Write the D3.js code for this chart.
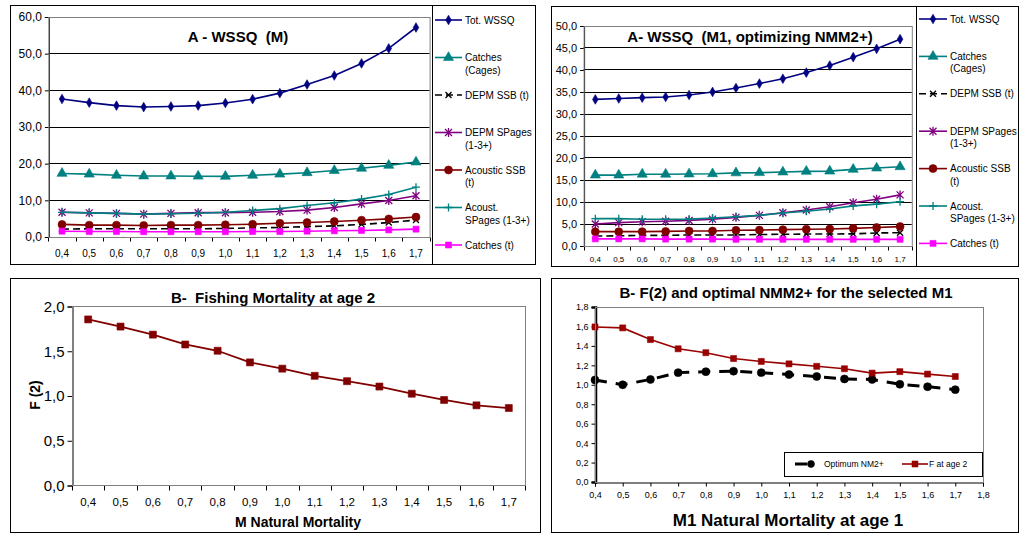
<!DOCTYPE html>
<html>
<head>
<meta charset="utf-8">
<script src="https://cdn.jsdelivr.net/npm/d3@7"></script>
<style>
  body { margin: 0; background: #fff; }
  svg { font-family: Arial, "Liberation Sans", sans-serif; }
  text { white-space: pre; }
</style>
</head>
<body>
<svg id="fig" width="1019" height="534"></svg>
<script>
// categories (M / M1 values)
var mLabels = ["0,4","0,5","0,6","0,7","0,8","0,9","1,0","1,1","1,2","1,3","1,4","1,5","1,6","1,7"];
var m1Values = [0.4,0.5,0.6,0.7,0.8,0.9,1.0,1.1,1.2,1.3,1.4,1.5,1.6,1.7];

// A - WSSQ (M)
var aTotWSSQ    = [37.5,36.5,35.7,35.3,35.45,35.7,36.4,37.45,39.1,41.45,43.9,47.2,51.3,57.0];
var aCatchCages = [17.2,17.0,16.7,16.5,16.5,16.45,16.4,16.7,17.0,17.4,18.0,18.6,19.4,20.3];
var aDepmSSB    = [2.0,2.1,2.1,2.1,2.1,2.1,2.2,2.35,2.45,2.7,2.9,3.3,3.8,4.5];
var aDepmSPages = [6.6,6.45,6.3,6.1,6.3,6.5,6.5,6.6,6.8,7.2,7.9,8.9,9.8,11.1];
var aAcouSSB    = [3.3,3.1,3.1,3.0,3.1,3.1,3.2,3.35,3.6,3.8,4.1,4.45,4.8,5.3];
var aAcouSPages = [6.6,6.45,6.3,6.1,6.2,6.35,6.6,7.1,7.6,8.45,9.2,10.2,11.45,13.45];
var aCatchT     = [1.45,1.35,1.35,1.3,1.3,1.3,1.3,1.35,1.35,1.45,1.55,1.65,1.8,2.0];

// A- WSSQ (M1, optimizing NMM2+)
var a2TotWSSQ    = [33.2,33.4,33.6,33.75,34.2,34.9,35.8,36.8,37.9,39.3,40.9,42.8,44.7,46.9];
var a2CatchCages = [16.0,16.0,16.2,16.2,16.25,16.3,16.5,16.55,16.7,16.85,16.9,17.3,17.6,17.9];
var a2DepmSSB    = [2.15,2.2,2.3,2.3,2.4,2.4,2.4,2.5,2.55,2.6,2.6,2.65,2.85,2.9];
var a2DepmSPages = [4.9,5.2,5.4,5.5,5.7,6.0,6.4,6.85,7.45,8.05,8.8,9.7,10.5,11.5];
var a2AcouSSB    = [3.15,3.15,3.15,3.2,3.3,3.3,3.45,3.5,3.6,3.7,3.75,3.9,4.1,4.3];
var a2AcouSPages = [6.1,6.1,5.95,5.95,6.0,6.25,6.55,6.85,7.4,7.8,8.3,9.0,9.4,9.95];
var a2CatchT     = [1.5,1.5,1.5,1.45,1.45,1.45,1.4,1.4,1.4,1.4,1.4,1.4,1.4,1.4];

// B- Fishing mortality at age 2
var bF2 = [1.85,1.77,1.68,1.57,1.5,1.37,1.3,1.22,1.16,1.1,1.02,0.95,0.89,0.86];

// B- F(2) and optimal NMM2+ for the selected M1
var bOptNM2 = [1.05,1.0,1.055,1.125,1.135,1.14,1.125,1.105,1.085,1.06,1.055,1.005,0.98,0.95];
var bF2opt  = [1.595,1.585,1.465,1.37,1.33,1.27,1.24,1.215,1.19,1.165,1.12,1.135,1.11,1.085];

var seriesNames = [["Tot. WSSQ"], ["Catches", "(Cages)"], ["DEPM SSB (t)"], ["DEPM SPages", "(1-3+)"],
                   ["Acoustic SSB", "(t)"], ["Acoust.", "SPages (1-3+)"], ["Catches (t)"]];

var comma1 = d3.formatLocale({decimal: ",", thousands: ".", grouping: [3], currency: ["", ""]}).format(".1f");
var svg = d3.select("#fig");

function box(x0, y0, x1, y1, color) {
  svg.append("rect")
    .attr("x", x0 + 0.5).attr("y", y0 + 0.5)
    .attr("width", x1 - x0).attr("height", y1 - y0)
    .attr("fill", "none").attr("stroke", color || "#000");
}

// marker shapes
function markPath(type, s) {
  var h = s / 2;
  if (type == "diamond") return d3.symbol(d3.symbolDiamond, s * s * 0.55)();
  if (type == "triangle") return d3.symbol(d3.symbolTriangle, s * s * 0.55)();
  if (type == "circle") return d3.symbol(d3.symbolCircle, s * s * 0.78)();
  if (type == "square") return d3.symbol(d3.symbolSquare, s * s)();
  if (type == "x") return `M${-h},${-h}L${h},${h}M${-h},${h}L${h},${-h}`;
  if (type == "star") return `M${-h},${-h}L${h},${h}M${-h},${h}L${h},${-h}M0,${-h - 1}V${h + 1}`;
  if (type == "plus") return `M${-h},0H${h}M0,${-h}V${h}`;
}
function drawMark(g, type, color, s, x, y) {
  var open = (type == "x" || type == "star" || type == "plus");
  g.append("path")
    .attr("d", markPath(type, s))
    .attr("transform", `translate(${x},${y})`)
    .attr("fill", open ? "none" : color)
    .attr("stroke", color)
    .attr("stroke-width", open ? 1.3 : 0.6);
}

// ============ WSSQ panels ============
function wssqPanel(o) {
  box(o.frame[0], o.frame[1], o.frame[2], o.frame[3]);
  box(o.legX, o.frame[1], o.frame[2], o.frame[3]);

  var x = d3.scaleBand().domain(mLabels).range([o.px0, o.px1]);
  var y = d3.scaleLinear().domain([0, o.ymax]).range([o.py1, o.py0]);
  var g = svg.append("g");

  // gridlines
  var ticks = d3.range(0, o.ymax + 0.001, o.ystep);
  g.selectAll(".grid").data(ticks.slice(1, -1)).enter().append("line")
    .attr("x1", o.px0).attr("x2", o.px1)
    .attr("y1", d => Math.round(y(d)) + 0.5).attr("y2", d => Math.round(y(d)) + 0.5)
    .attr("stroke", "#000");
  box(o.px0, Math.round(y(o.ymax)), o.px1, Math.round(y(0)), "#808080");

  // y axis
  var yAxis = d3.axisLeft(y).tickValues(ticks).tickSize(4).tickFormat(comma1);
  var ya = g.append("g").attr("transform", `translate(${o.px0 + 0.5},0.5)`).call(yAxis);
  ya.select(".domain").attr("stroke", "#000");
  ya.selectAll("text").attr("font-size", o.yFont).attr("fill", "#000");

  // x axis (ticks at category boundaries)
  var xa = g.append("g").attr("transform", `translate(0,${Math.round(y(0)) + 0.5})`);
  xa.append("line").attr("x1", o.px0).attr("x2", o.px1).attr("stroke", "#000");
  xa.selectAll(".tk").data(mLabels.concat(["end"])).enter().append("line")
    .attr("x1", (d, i) => Math.round(o.px0 + i * x.step()) + 0.5)
    .attr("x2", (d, i) => Math.round(o.px0 + i * x.step()) + 0.5)
    .attr("y1", 0).attr("y2", 4).attr("stroke", "#000");
  xa.selectAll(".lb").data(mLabels).enter().append("text")
    .attr("x", d => x(d) + x.bandwidth() / 2)
    .attr("y", o.xLabY)
    .attr("text-anchor", "middle")
    .attr("font-size", o.xFont)
    .text(d => d);

  // series
  var line = d3.line().x((d, i) => x(mLabels[i]) + x.bandwidth() / 2).y(d => y(d));
  o.series.forEach(function (s) {
    g.append("path").datum(s.values).attr("d", line)
      .attr("fill", "none").attr("stroke", s.color).attr("stroke-width", 1.6)
      .attr("stroke-dasharray", s.dash || null);
    s.values.forEach(function (v, i) {
      drawMark(g, s.mark, s.color, s.size, x(mLabels[i]) + x.bandwidth() / 2, y(v));
    });
  });

  // title
  svg.append("text").attr("x", o.titleX).attr("y", o.titleY)
    .attr("text-anchor", "middle").attr("font-size", 15).attr("font-weight", "bold")
    .text(o.title);

  // legend
  o.series.forEach(function (s, i) {
    var ly = o.legY + i * o.legDy;
    svg.append("line").attr("x1", o.legL0).attr("x2", o.legL1).attr("y1", ly).attr("y2", ly)
      .attr("stroke", s.color).attr("stroke-width", 1.6).attr("stroke-dasharray", s.dash || null);
    drawMark(svg, s.mark, s.color, s.size, (o.legL0 + o.legL1) / 2, ly);
    seriesNames[i].forEach(function (t, k) {
      svg.append("text").attr("x", o.legT).attr("y", ly + 3.5 + k * 12.5)
        .attr("font-size", o.legFont).text(t);
    });
  });
}

function seriesSet(tot, cages, dssb, dsp, assb, asp, ct) {
  return [
    {values: tot,   color: "#000080", mark: "diamond",  size: 7},
    {values: cages, color: "#008080", mark: "triangle", size: 9},
    {values: dssb,  color: "#000000", mark: "x",        size: 6, dash: "7,4"},
    {values: dsp,   color: "#800080", mark: "star",     size: 7},
    {values: assb,  color: "#800000", mark: "circle",   size: 8},
    {values: asp,   color: "#008080", mark: "plus",     size: 8},
    {values: ct,    color: "#ff00ff", mark: "square",   size: 6}
  ];
}

wssqPanel({
  frame: [10, 5, 535, 264], legX: 432,
  px0: 48.4, px1: 429.6, py0: 16.5, py1: 236.5, ymax: 60, ystep: 10,
  yFont: 12, xFont: 10, xLabY: 19,
  series: seriesSet(aTotWSSQ, aCatchCages, aDepmSSB, aDepmSPages, aAcouSSB, aAcouSPages, aCatchT),
  title: "A - WSSQ  (M)", titleX: 238, titleY: 42,
  legY: 20, legDy: 37.5, legL0: 435, legL1: 462, legT: 465, legFont: 10
});

wssqPanel({
  frame: [551, 6, 1018, 266], legX: 916,
  px0: 583.6, px1: 911.8, py0: 25.5, py1: 245.5, ymax: 50, ystep: 5,
  yFont: 11, xFont: 8, xLabY: 15,
  series: seriesSet(a2TotWSSQ, a2CatchCages, a2DepmSSB, a2DepmSPages, a2AcouSSB, a2AcouSPages, a2CatchT),
  title: "A- WSSQ  (M1, optimizing NMM2+)", titleX: 750, titleY: 42,
  legY: 19, legDy: 37.4, legL0: 919, legL1: 947, legT: 950, legFont: 10
});

// ============ B- Fishing Mortality at age 2 ============
(function () {
  box(10, 278, 540, 532);
  var px0 = 72, px1 = 525, py0 = 306, py1 = 485;
  var x = d3.scaleBand().domain(mLabels).range([px0, px1]);
  var y = d3.scaleLinear().domain([0, 2]).range([py1, py0]);
  var g = svg.append("g");
  box(px0, py0, px1, py1, "#808080");

  var ya = g.append("g").attr("transform", `translate(${px0 + 0.5},0.5)`)
    .call(d3.axisLeft(y).tickValues([0, 0.5, 1, 1.5, 2]).tickSize(5).tickFormat(comma1));
  ya.selectAll("text").attr("font-size", 15).attr("fill", "#000");
  ya.selectAll("line, .domain").attr("stroke", "#000");

  var xa = g.append("g").attr("transform", `translate(0,${py1 + 0.5})`);
  xa.append("line").attr("x1", px0).attr("x2", px1).attr("stroke", "#000");
  xa.selectAll(".tk").data(mLabels.concat(["end"])).enter().append("line")
    .attr("x1", (d, i) => Math.round(px0 + i * x.step()) + 0.5)
    .attr("x2", (d, i) => Math.round(px0 + i * x.step()) + 0.5)
    .attr("y1", 0).attr("y2", 5).attr("stroke", "#000");
  xa.selectAll(".lb").data(mLabels).enter().append("text")
    .attr("x", d => x(d) + x.bandwidth() / 2).attr("y", 20)
    .attr("text-anchor", "middle").attr("font-size", 11.5).text(d => d);

  var line = d3.line().x((d, i) => x(mLabels[i]) + x.bandwidth() / 2).y(d => y(d));
  g.append("path").datum(bF2).attr("d", line).attr("fill", "none")
    .attr("stroke", "#800000").attr("stroke-width", 1.8);
  bF2.forEach(function (v, i) { drawMark(g, "square", "#800000", 7, x(mLabels[i]) + x.bandwidth() / 2, y(v)); });

  svg.append("text").attr("x", 273).attr("y", 303).attr("text-anchor", "middle")
    .attr("font-size", 15).attr("font-weight", "bold").text("B-  Fishing Mortality at age 2");
  svg.append("text").attr("x", 298).attr("y", 527).attr("text-anchor", "middle")
    .attr("font-size", 14).attr("font-weight", "bold").text("M Natural Mortality");
  svg.append("text").attr("transform", "translate(40,395) rotate(-90)").attr("text-anchor", "middle")
    .attr("font-size", 14).attr("font-weight", "bold").text("F (2)");
})();

// ============ B- F(2) and optimal NMM2+ ============
(function () {
  box(551, 278, 1018, 532);
  var px0 = 595, px1 = 983, py0 = 307, py1 = 482;
  var x = d3.scaleLinear().domain([0.4, 1.8]).range([px0, px1]);
  var y = d3.scaleLinear().domain([0, 1.8]).range([py1, py0]);
  var g = svg.append("g");
  box(px0, py0, px1, py1, "#808080");

  var xa = g.append("g").attr("transform", `translate(0,${py1 + 0.5})`)
    .call(d3.axisBottom(x).tickValues(d3.range(4, 19).map(d => d / 10)).tickSize(4).tickFormat(comma1));
  xa.selectAll("text").attr("font-size", 9).attr("fill", "#000").attr("dy", "0.9em");
  xa.selectAll("line, .domain").attr("stroke", "#000");

  var ya = g.append("g").attr("transform", `translate(${px0 + 0.5},0)`)
    .call(d3.axisLeft(y).tickValues(d3.range(0, 10).map(d => d / 5)).tickSize(4).tickFormat(comma1));
  ya.selectAll("text").attr("font-size", 9).attr("fill", "#000");
  ya.selectAll("line").attr("stroke", "#000");
  ya.select(".domain").attr("stroke", "#000").attr("stroke-width", 2.5);

  var line = d3.line().x((d, i) => x(m1Values[i])).y(d => y(d));
  g.append("path").datum(bOptNM2).attr("d", line).attr("fill", "none")
    .attr("stroke", "#000").attr("stroke-width", 3).attr("stroke-dasharray", "12,9");
  bOptNM2.forEach(function (v, i) { drawMark(g, "circle", "#000", 8, x(m1Values[i]), y(v)); });
  g.append("path").datum(bF2opt).attr("d", line).attr("fill", "none")
    .attr("stroke", "#990000").attr("stroke-width", 1.6);
  bF2opt.forEach(function (v, i) { drawMark(g, "square", "#990000", 6, x(m1Values[i]), y(v)); });

  // legend
  svg.append("rect").attr("x", 784.5).attr("y", 452.5).attr("width", 198).attr("height", 24)
    .attr("fill", "#fff").attr("stroke", "#000");
  svg.append("line").attr("x1", 795).attr("x2", 813).attr("y1", 464).attr("y2", 464)
    .attr("stroke", "#000").attr("stroke-width", 3).attr("stroke-dasharray", "12,6");
  drawMark(svg, "circle", "#000", 7, 811, 464);
  svg.append("text").attr("x", 824).attr("y", 467).attr("font-size", 8.5).text("Optimum NM2+");
  svg.append("line").attr("x1", 902).attr("x2", 928).attr("y1", 464).attr("y2", 464)
    .attr("stroke", "#990000").attr("stroke-width", 1.6);
  drawMark(svg, "square", "#990000", 6, 915, 464);
  svg.append("text").attr("x", 929).attr("y", 467).attr("font-size", 8.5).text("F at age 2");

  svg.append("text").attr("x", 786).attr("y", 298).attr("text-anchor", "middle")
    .attr("font-size", 15).attr("font-weight", "bold").text("B- F(2) and optimal NMM2+ for the selected M1");
  svg.append("text").attr("x", 788).attr("y", 526).attr("text-anchor", "middle")
    .attr("font-size", 17).attr("font-weight", "bold").text("M1 Natural Mortality at age 1");
})();
</script>
</body>
</html>
